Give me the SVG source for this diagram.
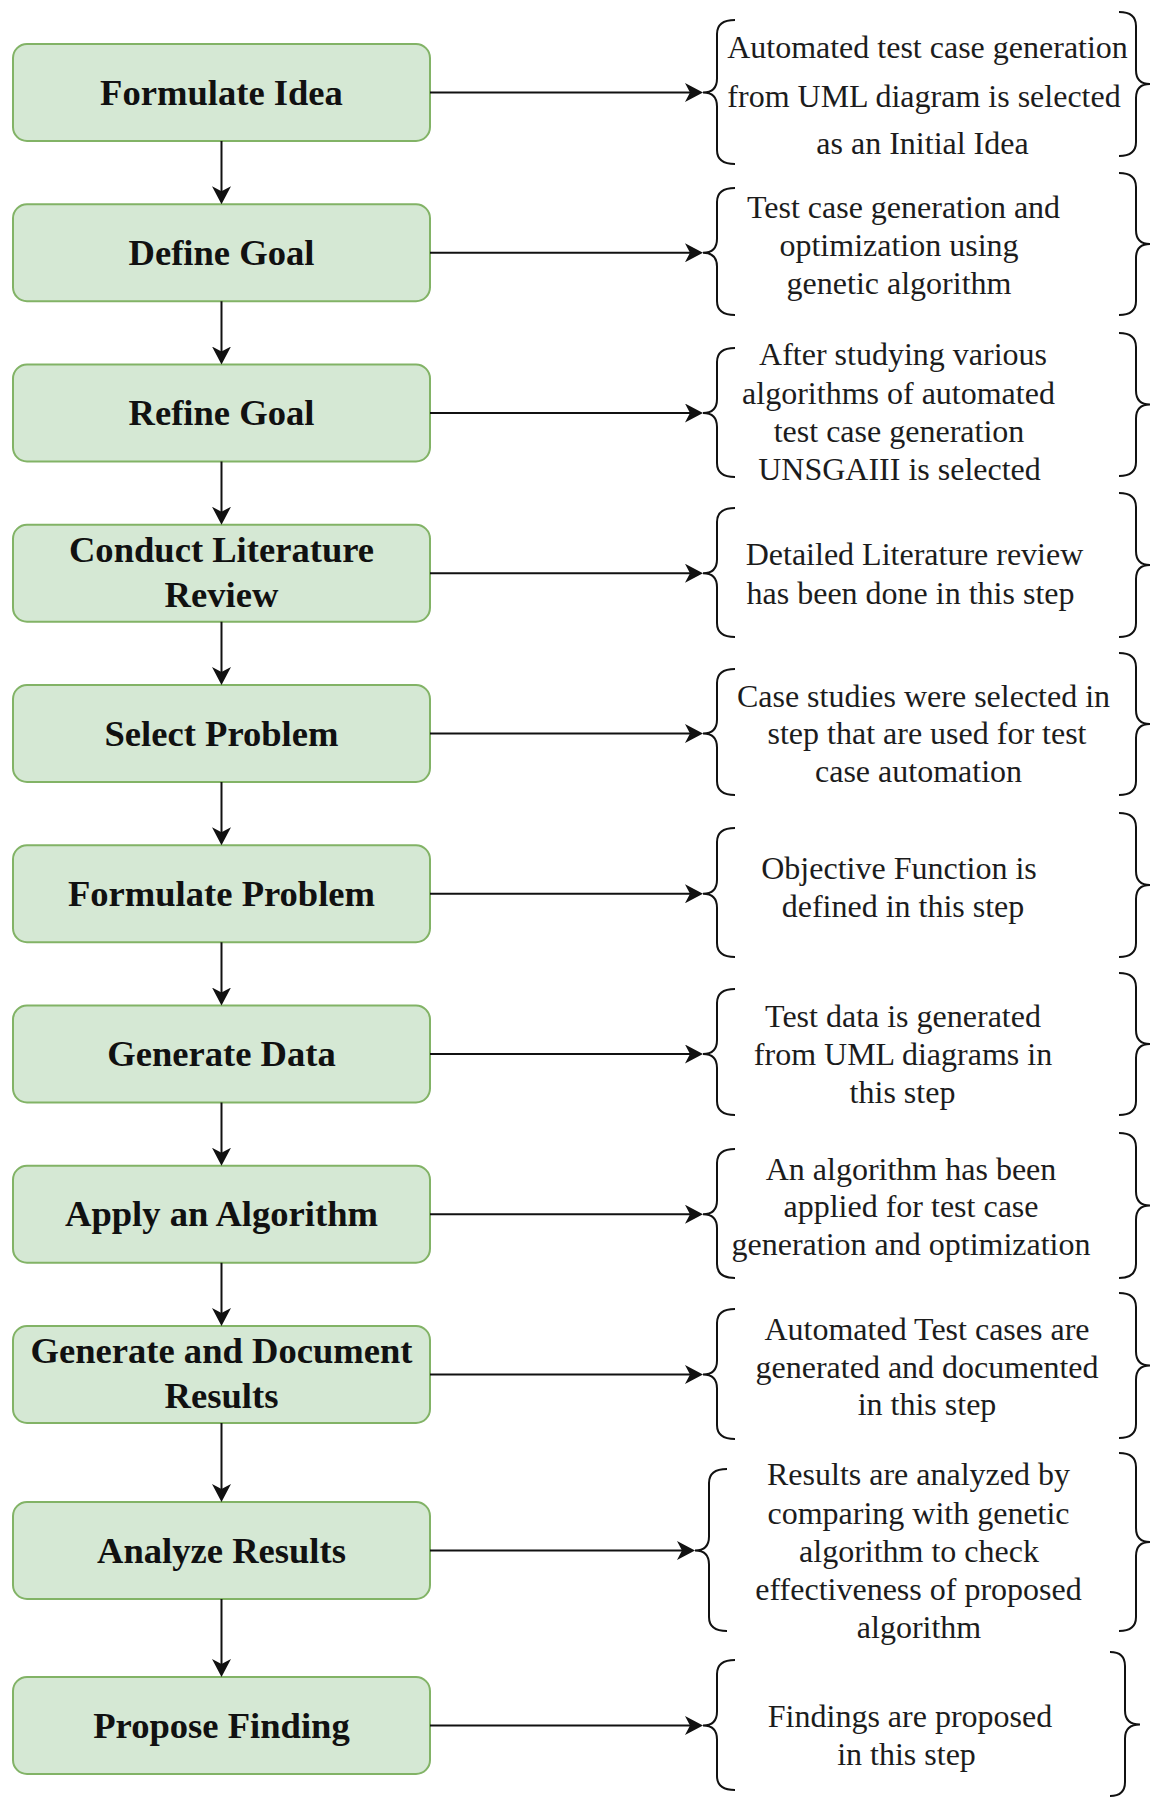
<svg xmlns="http://www.w3.org/2000/svg" width="1153" height="1798" viewBox="0 0 1153 1798">
  <style>
    .step rect { fill: #d5e8d4; stroke: #82b366; stroke-width: 2; }
    .step text { font-family: "Liberation Serif", "Times New Roman", serif; font-size: 36.6px; font-weight: bold; fill: #111; text-anchor: middle; }
    .note path { fill: none; stroke: #111; stroke-width: 2; }
    .note text { font-family: "Liberation Serif", "Times New Roman", serif; font-size: 32px; fill: #1c1c1c; text-anchor: middle; }
    .link { fill: none; stroke: #111; stroke-width: 2; }
  </style>
  <defs>
    <marker id="arrow" markerUnits="userSpaceOnUse" markerWidth="18" markerHeight="19" viewBox="0 0 18 19" refX="13" refY="9.5" orient="auto">
      <path d="M0,0 L18,9.5 L0,19 L5,9.5 Z" fill="#111"/>
    </marker>
  </defs>
  <rect width="1153" height="1798" fill="#fff"/>

  <!-- process steps -->
  <g id="step-formulate-idea" class="step">
    <rect x="13" y="44" width="417" height="97" rx="14"/>
    <text x="221.5" y="104.5">Formulate Idea</text>
  </g>
  <g id="step-define-goal" class="step">
    <rect x="13" y="204.25" width="417" height="97" rx="14"/>
    <text x="221.5" y="264.75">Define Goal</text>
  </g>
  <g id="step-refine-goal" class="step">
    <rect x="13" y="364.5" width="417" height="97" rx="14"/>
    <text x="221.5" y="425">Refine Goal</text>
  </g>
  <g id="step-literature-review" class="step">
    <rect x="13" y="524.75" width="417" height="97" rx="14"/>
    <text x="221.5" y="561.75">Conduct Literature</text>
    <text x="221.5" y="606.75">Review</text>
  </g>
  <g id="step-select-problem" class="step">
    <rect x="13" y="685" width="417" height="97" rx="14"/>
    <text x="221.5" y="745.5">Select Problem</text>
  </g>
  <g id="step-formulate-problem" class="step">
    <rect x="13" y="845.25" width="417" height="97" rx="14"/>
    <text x="221.5" y="905.75">Formulate Problem</text>
  </g>
  <g id="step-generate-data" class="step">
    <rect x="13" y="1005.5" width="417" height="97" rx="14"/>
    <text x="221.5" y="1066">Generate Data</text>
  </g>
  <g id="step-apply-algorithm" class="step">
    <rect x="13" y="1165.75" width="417" height="97" rx="14"/>
    <text x="221.5" y="1226.25">Apply an Algorithm</text>
  </g>
  <g id="step-document-results" class="step">
    <rect x="13" y="1326" width="417" height="97" rx="14"/>
    <text x="221.5" y="1363">Generate and Document</text>
    <text x="221.5" y="1408">Results</text>
  </g>
  <g id="step-analyze-results" class="step">
    <rect x="13" y="1502" width="417" height="97" rx="14"/>
    <text x="221.5" y="1562.5">Analyze Results</text>
  </g>
  <g id="step-propose-finding" class="step">
    <rect x="13" y="1677" width="417" height="97" rx="14"/>
    <text x="221.5" y="1737.5">Propose Finding</text>
  </g>

  <!-- bracketed descriptions -->
  <g id="note-formulate-idea" class="note">
    <path d="M735,20 Q717,20 717,34 L717,78.5 Q717,92.5 703,92.5 Q717,92.5 717,106.5 L717,150 Q717,164 735,164"/>
    <path d="M1119,12 Q1136,12 1136,26 L1136,70 Q1136,84 1150,84 Q1136,84 1136,98 L1136,142 Q1136,156 1119,156"/>
    <text x="927.5" y="58.3">Automated test case generation</text>
    <text x="924" y="106.7">from UML diagram is selected</text>
    <text x="922.5" y="154">as an Initial Idea</text>
  </g>
  <g id="note-define-goal" class="note">
    <path d="M735,188 Q717,188 717,202 L717,238.75 Q717,252.75 703,252.75 Q717,252.75 717,266.75 L717,301 Q717,315 735,315"/>
    <path d="M1119,173 Q1136,173 1136,187 L1136,230 Q1136,244 1150,244 Q1136,244 1136,258 L1136,301 Q1136,315 1119,315"/>
    <text x="903.5" y="218">Test case generation and</text>
    <text x="899" y="256">optimization using</text>
    <text x="899" y="293.5">genetic algorithm</text>
  </g>
  <g id="note-refine-goal" class="note">
    <path d="M735,348 Q717,348 717,362 L717,399 Q717,413 703,413 Q717,413 717,427 L717,463 Q717,477 735,477"/>
    <path d="M1119,333 Q1136,333 1136,347 L1136,390.5 Q1136,404.5 1150,404.5 Q1136,404.5 1136,418.5 L1136,462 Q1136,476 1119,476"/>
    <text x="903" y="365">After studying various</text>
    <text x="898.5" y="403.5">algorithms of automated</text>
    <text x="899" y="441.5">test case generation</text>
    <text x="899.5" y="480">UNSGAIII is selected</text>
  </g>
  <g id="note-literature-review" class="note">
    <path d="M735,508 Q717,508 717,522 L717,559.25 Q717,573.25 703,573.25 Q717,573.25 717,587.25 L717,623 Q717,637 735,637"/>
    <path d="M1119,493 Q1136,493 1136,507 L1136,551 Q1136,565 1150,565 Q1136,565 1136,579 L1136,623 Q1136,637 1119,637"/>
    <text x="914.5" y="565">Detailed Literature review</text>
    <text x="910.5" y="604">has been done in this step</text>
  </g>
  <g id="note-select-problem" class="note">
    <path d="M735,669 Q717,669 717,683 L717,719.5 Q717,733.5 703,733.5 Q717,733.5 717,747.5 L717,781 Q717,795 735,795"/>
    <path d="M1119,653 Q1136,653 1136,667 L1136,710 Q1136,724 1150,724 Q1136,724 1136,738 L1136,781 Q1136,795 1119,795"/>
    <text x="923.5" y="706.5">Case studies were selected in</text>
    <text x="927" y="744">step that are used for test</text>
    <text x="918.5" y="782">case automation</text>
  </g>
  <g id="note-formulate-problem" class="note">
    <path d="M735,828 Q717,828 717,842 L717,879.75 Q717,893.75 703,893.75 Q717,893.75 717,907.75 L717,943 Q717,957 735,957"/>
    <path d="M1119,813 Q1136,813 1136,827 L1136,871 Q1136,885 1150,885 Q1136,885 1136,899 L1136,943 Q1136,957 1119,957"/>
    <text x="899" y="878.5">Objective Function is</text>
    <text x="903" y="916.5">defined in this step</text>
  </g>
  <g id="note-generate-data" class="note">
    <path d="M735,989 Q717,989 717,1003 L717,1040 Q717,1054 703,1054 Q717,1054 717,1068 L717,1101 Q717,1115 735,1115"/>
    <path d="M1119,973 Q1136,973 1136,987 L1136,1030 Q1136,1044 1150,1044 Q1136,1044 1136,1058 L1136,1101 Q1136,1115 1119,1115"/>
    <text x="903" y="1026.5">Test data is generated</text>
    <text x="903" y="1065">from UML diagrams in</text>
    <text x="902.5" y="1103">this step</text>
  </g>
  <g id="note-apply-algorithm" class="note">
    <path d="M735,1149 Q717,1149 717,1163 L717,1200.25 Q717,1214.25 703,1214.25 Q717,1214.25 717,1228.25 L717,1264 Q717,1278 735,1278"/>
    <path d="M1119,1133 Q1136,1133 1136,1147 L1136,1191.5 Q1136,1205.5 1150,1205.5 Q1136,1205.5 1136,1219.5 L1136,1264 Q1136,1278 1119,1278"/>
    <text x="911" y="1179.5">An algorithm has been</text>
    <text x="911" y="1217">applied for test case</text>
    <text x="911" y="1255">generation and optimization</text>
  </g>
  <g id="note-document-results" class="note">
    <path d="M735,1309 Q717,1309 717,1323 L717,1360.5 Q717,1374.5 703,1374.5 Q717,1374.5 717,1388.5 L717,1425 Q717,1439 735,1439"/>
    <path d="M1119,1293 Q1136,1293 1136,1307 L1136,1351.5 Q1136,1365.5 1150,1365.5 Q1136,1365.5 1136,1379.5 L1136,1424 Q1136,1438 1119,1438"/>
    <text x="927" y="1339.5">Automated Test cases are</text>
    <text x="927" y="1377.5">generated and documented</text>
    <text x="927" y="1415">in this step</text>
  </g>
  <g id="note-analyze-results" class="note">
    <path d="M727,1469 Q709,1469 709,1483 L709,1536.5 Q709,1550.5 695,1550.5 Q709,1550.5 709,1564.5 L709,1617 Q709,1631 727,1631"/>
    <path d="M1119,1453 Q1136,1453 1136,1467 L1136,1528 Q1136,1542 1150,1542 Q1136,1542 1136,1556 L1136,1617 Q1136,1631 1119,1631"/>
    <text x="918.5" y="1485">Results are analyzed by</text>
    <text x="918.5" y="1523.5">comparing with genetic</text>
    <text x="919" y="1561.5">algorithm to check</text>
    <text x="918.5" y="1600">effectiveness of proposed</text>
    <text x="919" y="1638">algorithm</text>
  </g>
  <g id="note-propose-finding" class="note">
    <path d="M735,1660 Q717,1660 717,1674 L717,1711.5 Q717,1725.5 703,1725.5 Q717,1725.5 717,1739.5 L717,1776 Q717,1790 735,1790"/>
    <path d="M1110,1652 Q1125,1652 1125,1666 L1125,1710.5 Q1125,1724.5 1140,1724.5 Q1125,1724.5 1125,1738.5 L1125,1782 Q1125,1796 1110,1796"/>
    <text x="910" y="1726.5">Findings are proposed</text>
    <text x="906.5" y="1765">in this step</text>
  </g>

  <!-- connectors -->
  <g id="connectors">
    <!-- flow down the steps -->
    <line class="link" x1="221.5" y1="141" x2="221.5" y2="199.25" marker-end="url(#arrow)"/>
    <line class="link" x1="221.5" y1="301.25" x2="221.5" y2="359.5" marker-end="url(#arrow)"/>
    <line class="link" x1="221.5" y1="461.5" x2="221.5" y2="519.75" marker-end="url(#arrow)"/>
    <line class="link" x1="221.5" y1="621.75" x2="221.5" y2="680" marker-end="url(#arrow)"/>
    <line class="link" x1="221.5" y1="782" x2="221.5" y2="840.25" marker-end="url(#arrow)"/>
    <line class="link" x1="221.5" y1="942.25" x2="221.5" y2="1000.5" marker-end="url(#arrow)"/>
    <line class="link" x1="221.5" y1="1102.5" x2="221.5" y2="1160.75" marker-end="url(#arrow)"/>
    <line class="link" x1="221.5" y1="1262.75" x2="221.5" y2="1321" marker-end="url(#arrow)"/>
    <line class="link" x1="221.5" y1="1423" x2="221.5" y2="1497" marker-end="url(#arrow)"/>
    <line class="link" x1="221.5" y1="1599" x2="221.5" y2="1672" marker-end="url(#arrow)"/>
    <!-- step to description -->
    <line class="link" x1="430" y1="92.5" x2="698" y2="92.5" marker-end="url(#arrow)"/>
    <line class="link" x1="430" y1="252.75" x2="698" y2="252.75" marker-end="url(#arrow)"/>
    <line class="link" x1="430" y1="413" x2="698" y2="413" marker-end="url(#arrow)"/>
    <line class="link" x1="430" y1="573.25" x2="698" y2="573.25" marker-end="url(#arrow)"/>
    <line class="link" x1="430" y1="733.5" x2="698" y2="733.5" marker-end="url(#arrow)"/>
    <line class="link" x1="430" y1="893.75" x2="698" y2="893.75" marker-end="url(#arrow)"/>
    <line class="link" x1="430" y1="1054" x2="698" y2="1054" marker-end="url(#arrow)"/>
    <line class="link" x1="430" y1="1214.25" x2="698" y2="1214.25" marker-end="url(#arrow)"/>
    <line class="link" x1="430" y1="1374.5" x2="698" y2="1374.5" marker-end="url(#arrow)"/>
    <line class="link" x1="430" y1="1550.5" x2="690" y2="1550.5" marker-end="url(#arrow)"/>
    <line class="link" x1="430" y1="1725.5" x2="698" y2="1725.5" marker-end="url(#arrow)"/>
  </g>
</svg>
